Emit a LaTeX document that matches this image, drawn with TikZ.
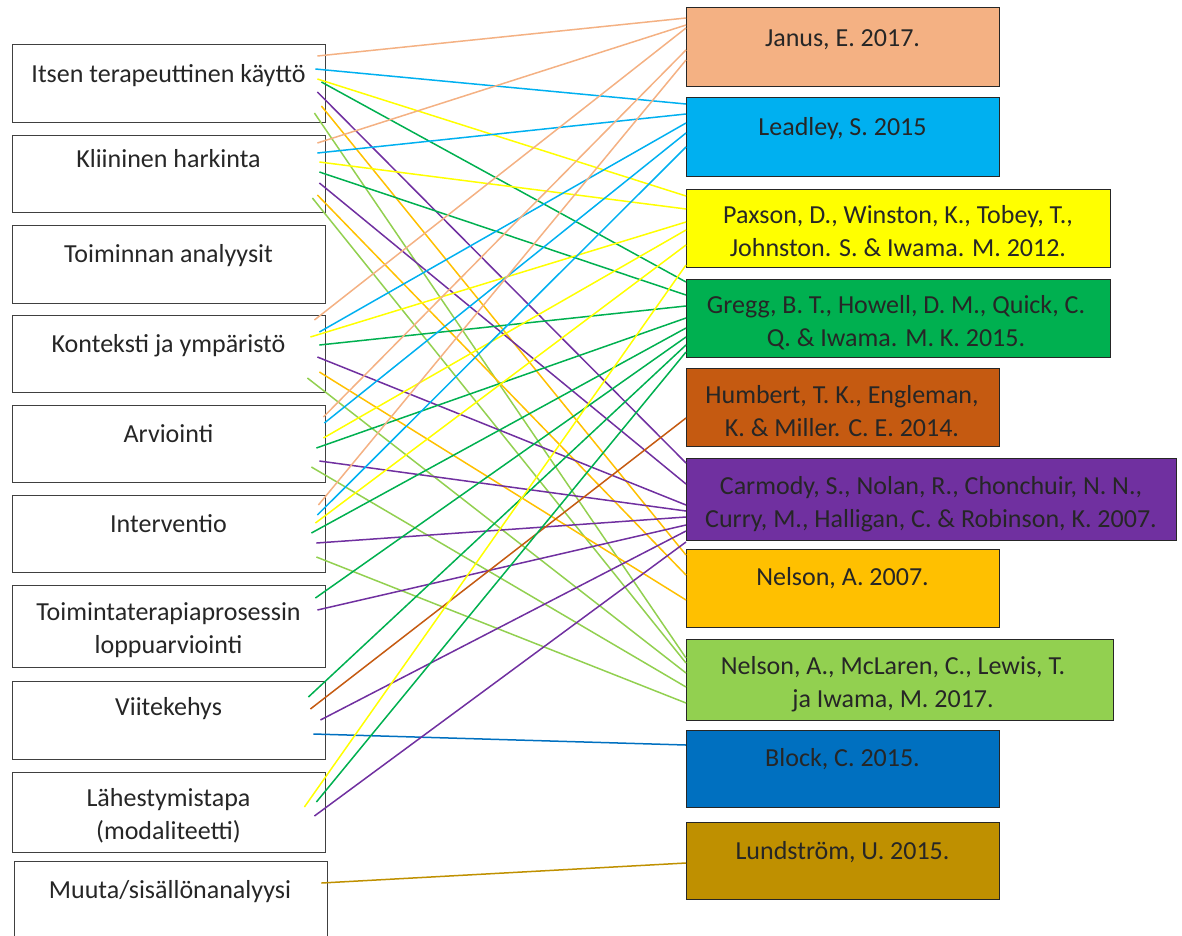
\documentclass[tikz,border=0pt]{standalone}
\usepackage{fontspec}
\setmainfont{Carlito}
\usetikzlibrary{calc}
\definecolor{cpeach}{HTML}{F4B183}
\definecolor{cblue}{HTML}{00B0F0}
\definecolor{cyellow}{HTML}{FFFF00}
\definecolor{cgreen}{HTML}{00B050}
\definecolor{cbrown}{HTML}{C55A11}
\definecolor{cpurple}{HTML}{7030A0}
\definecolor{corange}{HTML}{FFC000}
\definecolor{clgreen}{HTML}{92D050}
\definecolor{cdblue}{HTML}{0070C0}
\definecolor{cgold}{HTML}{BF9000}
\newcommand\lnk[6]{\draw[lk,#1] ($(#2.north east)+(#3,#4)$) -- ($(#5.north west)+(0,#6)$);}
\begin{document}
\begin{tikzpicture}[x=1pt,y=-1pt,
  lbox/.style={draw=black!75, line width=1.4pt, rectangle, anchor=north west, inner sep=0pt, minimum width=313pt},
  rbox/.style={draw=black!85, line width=1.1pt, rectangle, anchor=north west, inner sep=0pt},
  txt/.style={font=\fontsize{26}{33}\selectfont, text=black!85, anchor=base, align=center, inner sep=0pt},
  lk/.style={line width=1.5pt}]
\useasboundingbox (0,0) rectangle (1182,935);
\clip (0,0) rectangle (1182,935);
% left boxes
\node[lbox, minimum height=78pt] (L1) at (12,44) {};
\node[lbox, minimum height=77pt] (L2) at (12,135) {};
\node[lbox, minimum height=78pt] (L3) at (12,225) {};
\node[lbox, minimum height=77pt] (L4) at (12,315) {};
\node[lbox, minimum height=77pt] (L5) at (12,405) {};
\node[lbox, minimum height=77pt] (L6) at (12,495) {};
\node[lbox, minimum height=82pt] (L7) at (12,585) {};
\node[lbox, minimum height=78pt] (L8) at (12,681) {};
\node[lbox, minimum height=80pt] (L9) at (12,772) {};
\node[lbox, minimum height=90pt] (L10) at (14,861) {};
\node[txt] (T1) at (168.5,82) {Itsen terapeuttinen käyttö};
\node[txt] (T2) at (168.5,167) {Kliininen harkinta};
\node[txt] (T3) at (168.5,262) {Toiminnan analyysit};
\node[txt] (T4) at (168.5,352) {Konteksti ja ympäristö};
\node[txt] (T5) at (168.5,442) {Arviointi};
\node[txt] (T6) at (168.5,532) {Interventio};
\node[txt] (T7) at (168.5,653) {Toimintaterapiaprosessin\\loppuarviointi};
\node[txt] (T8) at (168.5,715) {Viitekehys};
\node[txt] (T9) at (168.5,839) {Lähestymistapa\\(modaliteetti)};
\node[txt] (T10) at (170,898) {Muuta/sisällönanalyysi};
% right boxes
\node[rbox, fill=cpeach, minimum width=313pt, minimum height=79pt] (R1) at (686,7) {};
\node[rbox, fill=cblue, minimum width=313pt, minimum height=79pt] (R2) at (686,97) {};
\node[rbox, fill=cyellow, minimum width=424pt, minimum height=78pt] (R3) at (686,189) {};
\node[rbox, fill=cgreen, minimum width=424pt, minimum height=78pt] (R4) at (686,279) {};
\node[rbox, fill=cbrown, minimum width=313pt, minimum height=78pt] (R5) at (686,368) {};
\node[rbox, fill=cpurple, minimum width=490pt, minimum height=82pt] (R6) at (686,458) {};
\node[rbox, fill=corange, minimum width=313pt, minimum height=78pt] (R7) at (686,549) {};
\node[rbox, fill=clgreen, minimum width=427pt, minimum height=81pt] (R8) at (686,639) {};
\node[rbox, fill=cdblue, minimum width=313pt, minimum height=77pt] (R9) at (686,730) {};
\node[rbox, fill=cgold, minimum width=313pt, minimum height=77pt] (R10) at (686,822) {};
\node[txt] (S1) at (842.5,46) {Janus, E. 2017.};
\node[txt] (S2) at (842.5,135) {Leadley, S. 2015};
\node[txt] (S3) at (898,256) {Paxson, D., Winston, K., Tobey, T.,\\Johnston. S. \& Iwama. M. 2012.};
\node[txt] (S4) at (896,346) {Gregg, B. T., Howell, D. M., Quick, C.\\Q. \& Iwama. M. K. 2015.};
\node[txt] (S5) at (842,436) {Humbert, T. K., Engleman,\\K. \& Miller. C. E. 2014.};
\node[txt] (S6) at (931,527) {Carmody, S., Nolan, R., Chonchuir, N. N.,\\Curry, M., Halligan, C. \& Robinson, K. 2007.};
\node[txt] (S7) at (842.5,585) {Nelson, A. 2007.};
\node[txt] (S8) at (893,707) {Nelson, A., McLaren, C., Lewis, T.\\ja Iwama, M. 2017.};
\node[txt] (S9) at (842.5,766) {Block, C. 2015.};
\node[txt] (S10) at (842.5,859) {Lundström, U. 2015.};
% links from L1
\lnk{cpeach}{L1}{-9}{12}{R1}{11}
\lnk{cblue}{L1}{-11}{25}{R2}{7}
\lnk{cyellow}{L1}{-9}{35}{R3}{7}
\lnk{cgreen}{L1}{-5}{38}{R4}{3}
\lnk{cpurple}{L1}{-9}{48}{R6}{5}
\lnk{corange}{L1}{-5}{62}{R7}{6}
\lnk{clgreen}{L1}{-12}{69}{R8}{19}
% L2
\lnk{cpeach}{L2}{-9}{8}{R1}{18}
\lnk{cblue}{L2}{-9}{18}{R2}{17}
\lnk{cyellow}{L2}{-7}{27}{R3}{20}
\lnk{cgreen}{L2}{-7}{37}{R4}{16}
\lnk{cpurple}{L2}{-7}{48}{R6}{26}
\lnk{corange}{L2}{-9}{60}{R7}{26}
\lnk{clgreen}{L2}{-14}{63}{R8}{24}
% L4
\lnk{cpeach}{L4}{-12}{5}{R1}{21}
\lnk{cblue}{L4}{-7}{17}{R2}{26}
\lnk{cyellow}{L4}{-16}{22}{R3}{33}
\lnk{cgreen}{L4}{-7}{30}{R4}{27}
\lnk{cpurple}{L4}{-9}{42}{R6}{47}
\lnk{corange}{L4}{-7}{57}{R7}{51}
\lnk{clgreen}{L4}{-19}{63}{R8}{34}
% L5
\lnk{cpeach}{L5}{-3}{12}{R1}{43}
\lnk{cblue}{L5}{-2}{18}{R2}{36}
\lnk{cyellow}{L5}{-3}{33}{R3}{41}
\lnk{cgreen}{L5}{-10}{43}{R4}{39}
\lnk{cpurple}{L5}{-7}{56}{R6}{53}
\lnk{clgreen}{L5}{-15}{62}{R8}{48}
% L6
\lnk{cpeach}{L6}{-8}{10}{R1}{53}
\lnk{cblue}{L6}{-9}{20}{R2}{50}
\lnk{cyellow}{L6}{-11}{28}{R3}{56}
\lnk{cgreen}{L6}{-15}{38}{R4}{49}
\lnk{cpurple}{L6}{-10}{48}{R6}{59}
\lnk{clgreen}{L6}{-10}{62}{R8}{64}
% L7
\lnk{cgreen}{L7}{-11}{13}{R4}{58}
\lnk{cpurple}{L7}{-9}{25}{R6}{67}
% L8
\lnk{cgreen}{L8}{-18}{16}{R4}{66}
\lnk{cbrown}{L8}{-16}{28}{R5}{50}
\lnk{cpurple}{L8}{-6}{39}{R6}{73}
\lnk{cdblue}{L8}{-13}{53}{R9}{15}
% L9
\lnk{cyellow}{L9}{-22}{35}{R3}{76}
\lnk{cgreen}{L9}{-10}{30}{R4}{73}
\lnk{cpurple}{L9}{-12}{44}{R6}{84}
% L10
\lnk{cgold}{L10}{-7}{22}{R10}{41}
\end{tikzpicture}
\end{document}
